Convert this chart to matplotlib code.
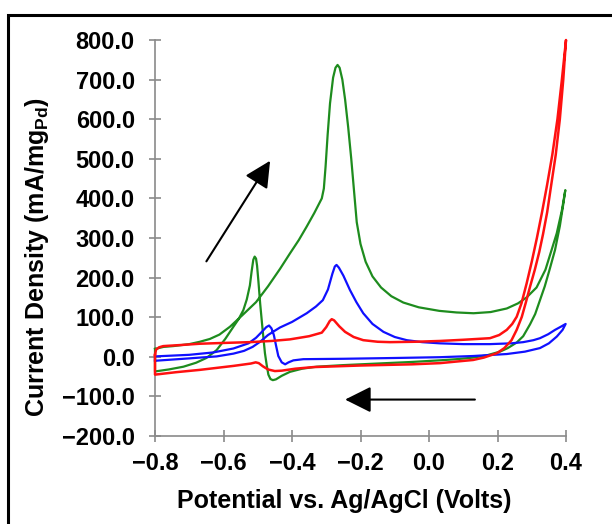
import matplotlib
matplotlib.use('Agg')
import matplotlib.pyplot as plt
from matplotlib.patches import Rectangle

plt.rcParams['font.family'] = 'Liberation Sans'
plt.rcParams['font.weight'] = 'bold'
plt.rcParams['mathtext.fontset'] = 'custom'
plt.rcParams['mathtext.rm'] = 'Liberation Sans'
plt.rcParams['mathtext.bf'] = 'Liberation Sans:bold'

# --- data (V vs. Ag/AgCl, mA/mg Pd) ---
# green: forward scan then reverse scan
green_x = [-0.800, -0.775, -0.747, -0.700, -0.669, -0.640, -0.612, -0.581, -0.545, -0.505,
           -0.470, -0.435, -0.406, -0.380, -0.357, -0.335, -0.313, -0.307, -0.302, -0.296,
           -0.289, -0.280, -0.273, -0.267, -0.261, -0.253, -0.245, -0.236, -0.227, -0.219,
           -0.211, -0.200, -0.185, -0.165, -0.140, -0.110, -0.075, -0.030, 0.030, 0.080,
           0.130, 0.180, 0.227, 0.260, 0.285, 0.314, 0.340, 0.358, 0.373, 0.388, 0.398,
           0.392, 0.382, 0.368, 0.352, 0.338, 0.324, 0.310, 0.295, 0.275, 0.256, 0.230,
           0.207, 0.170, 0.129, 0.080, 0.030, -0.050, -0.150, -0.250, -0.328, -0.370,
           -0.406, -0.430, -0.447, -0.456, -0.463, -0.469, -0.474, -0.479, -0.486, -0.493,
           -0.498, -0.502, -0.505, -0.509, -0.513, -0.518, -0.523, -0.532, -0.542, -0.556,
           -0.571, -0.595, -0.620, -0.650, -0.680, -0.717, -0.760, -0.800, -0.800]
green_y = [20, 25, 27, 32, 38, 45, 56, 76, 105, 138,
           178, 222, 261, 295, 329, 363, 400, 425, 480, 560,
           640, 705, 730, 737, 730, 700, 650, 580, 500, 420,
           340, 285, 240, 203, 175, 153, 137, 125, 116, 112,
           110, 113, 122, 135, 150, 175, 220, 270, 312, 370, 421,
           385, 330, 270, 220, 178, 143, 108, 82, 52, 36, 22,
           13, 4, -2, -6, -9, -13, -17, -21, -25, -30,
           -38, -48, -57, -59, -56, -45, -20, 9, 70, 135,
           190, 230, 248, 253, 245, 215, 180, 145, 118, 95,
           76, 45, 17, -3, -15, -25, -32, -37, 20]

blue_x = [-0.800, -0.750, -0.700, -0.669, -0.620, -0.571, -0.540, -0.515, -0.493, -0.470,
          -0.450, -0.435, -0.400, -0.357, -0.330, -0.310, -0.295, -0.282, -0.275, -0.270,
          -0.263, -0.250, -0.231, -0.212, -0.192, -0.165, -0.133, -0.100, -0.065, -0.020,
          0.032, 0.100, 0.178, 0.240, 0.275, 0.305, 0.324, 0.348, 0.368, 0.385, 0.399,
          0.390, 0.373, 0.350, 0.324, 0.280, 0.227, 0.129, 0.032, -0.100, -0.250,
          -0.367, -0.396, -0.410, -0.420, -0.430, -0.440, -0.447, -0.453, -0.460, -0.467,
          -0.475, -0.488, -0.505, -0.527, -0.571, -0.630, -0.700, -0.800, -0.800]
blue_y = [-10, -7, -4, -2, 1, 8, 15, 25, 38, 55,
          66, 74, 88, 110, 127, 143, 170, 210, 228, 232,
          225, 205, 169, 138, 110, 83, 63, 50, 42, 37,
          34, 32, 32, 34, 37, 42, 47, 57, 68, 76, 83,
          68, 51, 34, 22, 13, 7, 2, -1, -3, -5,
          -6, -9, -14, -19, -14, 2, 30, 55, 72, 79,
          75, 63, 48, 34, 21, 11, 5, 1, -10]

red_x = [-0.800, -0.797, -0.788, -0.776, -0.720, -0.669, -0.600, -0.523, -0.460, -0.406,
         -0.350, -0.313, -0.300, -0.290, -0.284, -0.277, -0.262, -0.245, -0.220, -0.192,
         -0.150, -0.114, -0.040, 0.032, 0.100, 0.178, 0.205, 0.227, 0.243, 0.256,
         0.270, 0.285, 0.300, 0.315, 0.330, 0.345, 0.360, 0.375, 0.388, 0.400,
         0.392, 0.382, 0.370, 0.357, 0.345, 0.333, 0.322, 0.309, 0.295, 0.283,
         0.271, 0.256, 0.241, 0.220, 0.198, 0.160, 0.129, 0.080, 0.032, -0.050,
         -0.200, -0.338, -0.390, -0.430, -0.450, -0.470, -0.485, -0.497, -0.506, -0.520,
         -0.571, -0.620, -0.669, -0.740, -0.800, -0.800]
red_y = [5, 18, 24, 27, 30, 33, 35, 37, 40, 44,
         52, 61, 75, 90, 95, 92, 77, 63, 50, 42,
         38, 37, 38, 40, 43, 47, 55, 68, 83, 101,
         135, 185, 240, 300, 365, 435, 510, 600, 700, 800,
         700, 600, 510, 435, 365, 310, 265, 220, 177, 138,
         101, 68, 42, 22, 9, -2, -8, -12, -16, -19,
         -22, -26, -30, -35, -36, -32, -24, -16, -14, -17,
         -23, -28, -33, -39, -45, 5]

x_ticks = [-0.8, -0.6, -0.4, -0.2, 0.0, 0.2, 0.4]
x_tick_labels = ['\u22120.8', '\u22120.6', '\u22120.4', '\u22120.2', '0.0', '0.2', '0.4']
y_ticks = [-200, -100, 0, 100, 200, 300, 400, 500, 600, 700, 800]
y_tick_labels = ['\u2212200.0', '\u2212100.0', '0.0', '100.0', '200.0', '300.0',
                 '400.0', '500.0', '600.0', '700.0', '800.0']

# scan direction arrows (tail, tip)
arrow_up = ((-0.650, 241), (-0.464, 495))
arrow_left = ((0.134, -108), (-0.245, -108))

fig = plt.figure(figsize=(6.12, 5.24), dpi=100)
ax = fig.add_axes([155 / 612, 1 - 436 / 524, 411 / 612, 396 / 524])

ax.plot(green_x, green_y, color='#1e8c1e', lw=1.6, clip_on=False, zorder=3)
ax.plot(blue_x, blue_y, color='#1010ff', lw=1.6, clip_on=False, zorder=3)
ax.plot(red_x, red_y, color='#ff1010', lw=1.8, clip_on=False, zorder=4)

for tail, tip in (arrow_up, arrow_left):
    ax.annotate('', xy=tip, xytext=tail,
                arrowprops=dict(arrowstyle='-|>,head_length=0.8,head_width=0.4',
                                color='black', lw=1.5, mutation_scale=20,
                                shrinkA=0, shrinkB=0))

ax.set_xlim(-0.8, 0.4)
ax.set_ylim(-200, 800)
ax.set_xticks(x_ticks)
ax.set_xticklabels(x_tick_labels)
ax.set_yticks(y_ticks)
ax.set_yticklabels(y_tick_labels)

for side in ('top', 'right'):
    ax.spines[side].set_visible(False)
for side in ('left', 'bottom'):
    ax.spines[side].set_color('#8a8a8a')
    ax.spines[side].set_linewidth(1.2)

ax.tick_params(axis='both', direction='inout', length=9, width=1.2, color='#8a8a8a',
               labelsize=17, labelcolor='black')
ax.tick_params(axis='y', pad=10)
ax.tick_params(axis='x', pad=7)

ax.set_xlabel('Potential vs. Ag/AgCl (Volts)', fontsize=18, fontweight='bold')
ax.set_ylabel('Current Density (mA/mg$_\\mathbf{Pd}$)', fontsize=18, fontweight='bold')
ax.xaxis.set_label_coords(0.46, -0.135)
ax.yaxis.set_label_coords(-0.253, 0.452)

# outer frame of the original figure (right/bottom edges cut off)
fig.patches.append(Rectangle((8 / 612, -0.05), 1.2, 1 - 15 / 524 + 0.05, fill=False,
                             lw=2.2, edgecolor='black', transform=fig.transFigure))

fig.savefig('out.png', dpi=100)
